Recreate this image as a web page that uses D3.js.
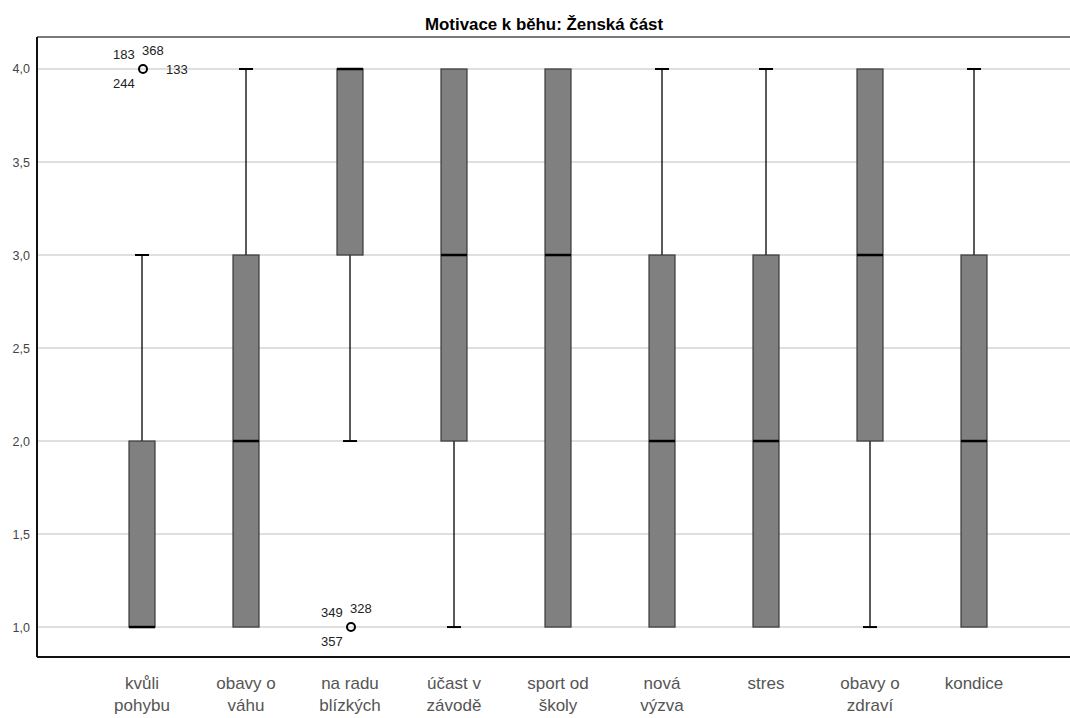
<!DOCTYPE html>
<html>
<head>
<meta charset="utf-8">
<script src="https://cdn.jsdelivr.net/npm/d3@7"></script>
<style>
  body { margin: 0; background: #fff; }
  text { font-family: "Liberation Sans", Arial, sans-serif; }
</style>
</head>
<body>
<div id="chart"></div>
<script>
const categories = [
  ["kvůli", "pohybu"], ["obavy o", "váhu"], ["na radu", "blízkých"], ["účast v", "závodě"],
  ["sport od", "školy"], ["nová", "výzva"], ["stres"], ["obavy o", "zdraví"], ["kondice"]
];
const q1 =      [1, 1, 3, 2, 1, 1, 1, 2, 1];
const medians = [1, 2, 4, 3, 3, 2, 2, 3, 2];
const q3 =      [2, 3, 4, 4, 4, 3, 3, 4, 3];
const whiskLo = [1, 1, 2, 1, 1, 1, 1, 1, 1];
const whiskHi = [3, 4, 4, 4, 4, 4, 4, 4, 4];
// outliers: category index, value, case labels (position: lt, rt, lb, r)
const outliers = [
  { cat: 0, value: 4, labels: [["183", "lt"], ["368", "rt"], ["244", "lb"], ["133", "r"]] },
  { cat: 2, value: 1, labels: [["349", "lt"], ["328", "rt"], ["357", "lb"]] }
];
const yTicks = [1.0, 1.5, 2.0, 2.5, 3.0, 3.5, 4.0];

const width = 1070, height = 718;
const margin = { top: 37, right: 0, bottom: 61, left: 37 };

const svg = d3.select("#chart").append("svg")
  .attr("width", width).attr("height", height);

const y = d3.scaleLinear()
  .domain([0.839, 4.172])
  .range([height - margin.bottom, margin.top]);

const x = d3.scalePoint()
  .domain(d3.range(categories.length))
  .range([142, 974]);

const fmt = d => d.toFixed(1).replace(".", ",");

// gridlines
svg.append("g").selectAll("line")
  .data(yTicks)
  .enter().append("line")
  .attr("x1", margin.left).attr("x2", width)
  .attr("y1", d => y(d)).attr("y2", d => y(d))
  .attr("stroke", "#d4d4d4").attr("stroke-width", 1.5);

// y axis labels
svg.append("g").selectAll("text")
  .data(yTicks)
  .enter().append("text")
  .attr("x", 30).attr("y", d => y(d) + 4.5)
  .attr("text-anchor", "end")
  .attr("font-size", 12.5).attr("fill", "#444")
  .text(fmt);

// frame
svg.append("line").attr("x1", margin.left).attr("x2", width)
  .attr("y1", margin.top).attr("y2", margin.top)
  .attr("stroke", "#7a7a7a").attr("stroke-width", 2);
svg.append("line").attr("x1", margin.left).attr("x2", margin.left)
  .attr("y1", margin.top).attr("y2", height - margin.bottom)
  .attr("stroke", "#111").attr("stroke-width", 2);
svg.append("line").attr("x1", margin.left).attr("x2", width)
  .attr("y1", height - margin.bottom).attr("y2", height - margin.bottom)
  .attr("stroke", "#111").attr("stroke-width", 2);

const boxW = 26, capW = 14;
const idx = d3.range(categories.length);
const g = svg.append("g");

// whiskers
g.selectAll(".wl").data(idx).enter().append("line")
  .attr("x1", i => x(i)).attr("x2", i => x(i))
  .attr("y1", i => y(whiskLo[i])).attr("y2", i => y(q1[i]))
  .attr("stroke", "#000").attr("stroke-width", 1.3);
g.selectAll(".wh").data(idx).enter().append("line")
  .attr("x1", i => x(i)).attr("x2", i => x(i))
  .attr("y1", i => y(whiskHi[i])).attr("y2", i => y(q3[i]))
  .attr("stroke", "#000").attr("stroke-width", 1.3);
g.selectAll(".cl").data(idx.filter(i => whiskLo[i] < q1[i])).enter().append("line")
  .attr("x1", i => x(i) - capW / 2).attr("x2", i => x(i) + capW / 2)
  .attr("y1", i => y(whiskLo[i])).attr("y2", i => y(whiskLo[i]))
  .attr("stroke", "#000").attr("stroke-width", 2);
g.selectAll(".ch").data(idx.filter(i => whiskHi[i] > q3[i])).enter().append("line")
  .attr("x1", i => x(i) - capW / 2).attr("x2", i => x(i) + capW / 2)
  .attr("y1", i => y(whiskHi[i])).attr("y2", i => y(whiskHi[i]))
  .attr("stroke", "#000").attr("stroke-width", 2);

// boxes
g.selectAll(".box").data(idx).enter().append("rect")
  .attr("x", i => x(i) - boxW / 2)
  .attr("width", boxW)
  .attr("y", i => y(q3[i]))
  .attr("height", i => y(q1[i]) - y(q3[i]))
  .attr("fill", "#808080")
  .attr("stroke", "#3a3a3a").attr("stroke-width", 1.2);

// medians
g.selectAll(".med").data(idx).enter().append("line")
  .attr("x1", i => x(i) - boxW / 2).attr("x2", i => x(i) + boxW / 2)
  .attr("y1", i => y(medians[i])).attr("y2", i => y(medians[i]))
  .attr("stroke", "#000").attr("stroke-width", 2.5);

// outliers
const offs = { lt: [-30, -10, "start"], rt: [-1, -14, "start"], lb: [-30, 19, "start"], r: [23, 5, "start"] };
outliers.forEach(o => {
  const cx = x(o.cat) + 1, cy = y(o.value);
  g.append("circle").attr("cx", cx).attr("cy", cy).attr("r", 4)
    .attr("fill", "none").attr("stroke", "#000").attr("stroke-width", 2);
  g.selectAll(null).data(o.labels).enter().append("text")
    .attr("x", d => cx + offs[d[1]][0])
    .attr("y", d => cy + offs[d[1]][1])
    .attr("font-size", 13).attr("fill", "#222")
    .text(d => d[0]);
});

// x labels
const xl = svg.append("g").selectAll("text")
  .data(idx).enter().append("text")
  .attr("text-anchor", "middle")
  .attr("font-size", 17).attr("fill", "#555");
xl.selectAll("tspan").data(i => categories[i].map(t => ({ t, i }))).enter()
  .append("tspan")
  .attr("x", d => x(d.i))
  .attr("y", (d, k) => 689 + k * 22)
  .text(d => d.t);

// title
svg.append("text")
  .attr("x", 544).attr("y", 30)
  .attr("text-anchor", "middle")
  .attr("font-weight", "bold").attr("font-size", 16).attr("fill", "#000")
  .attr("textLength", 238).attr("lengthAdjust", "spacingAndGlyphs")
  .text("Motivace k běhu: Ženská část");
</script>
</body>
</html>
